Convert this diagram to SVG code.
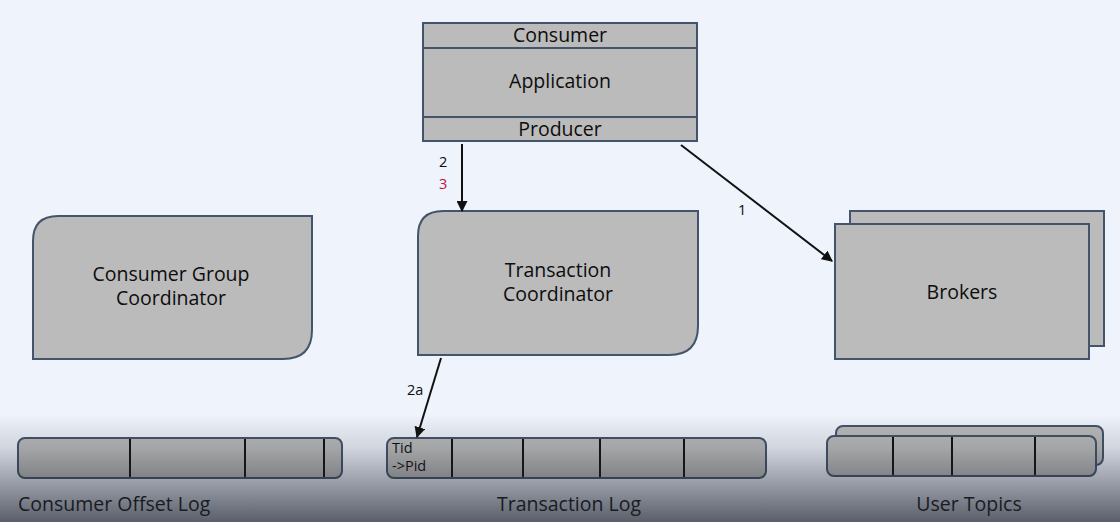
<svg xmlns="http://www.w3.org/2000/svg" width="1120" height="522" viewBox="0 0 1120 522">
<style>
.box{fill:#bbbbbb;stroke:#44546a;stroke-width:2}
.div{stroke:#111;stroke-width:2}
.t{font-family:"Open Sans","Noto Sans","Liberation Sans",sans-serif;font-size:19.5px;fill:#0d0d0d;text-anchor:middle}
.s{font-family:"Open Sans","Noto Sans","Liberation Sans",sans-serif;font-size:14.5px;fill:#0d0d0d}
.c{stroke:#111;stroke-width:2;fill:none;marker-end:url(#ah)}
</style>
<defs>
<marker id="ah" viewBox="0 0 10 10" refX="9" refY="5" markerWidth="5.5" markerHeight="5.5" orient="auto" markerUnits="strokeWidth">
<path d="M0,0 L10,5 L0,10 z" fill="#111"/>
</marker>
<linearGradient id="shade" x1="0" y1="0" x2="0" y2="1">
<stop offset="0" stop-color="#000" stop-opacity="0"/>
<stop offset="0.3" stop-color="#202530" stop-opacity="0.14"/>
<stop offset="1" stop-color="#202530" stop-opacity="0.72"/>
</linearGradient>
</defs>
<rect x="0" y="0" width="1120" height="522" fill="#eef3fc"/>

<g id="application">
<rect class="box" x="423" y="23" width="274" height="118"/>
<line x1="423" y1="48" x2="697" y2="48" stroke="#44546a" stroke-width="2"/>
<line x1="423" y1="117" x2="697" y2="117" stroke="#44546a" stroke-width="2"/>
<text class="t" x="560" y="42">Consumer</text>
<text class="t" x="560" y="88">Application</text>
<text class="t" x="560" y="136">Producer</text>
</g>

<g id="consumer-group-coordinator">
<path class="box" d="M58,216 H312 V330 Q312,359 283,359 H33 V241 Q33,216 58,216 Z"/>
<text class="t" x="171" y="281">Consumer Group</text>
<text class="t" x="171" y="305">Coordinator</text>
</g>

<g id="transaction-coordinator">
<path class="box" d="M443,211 H698 V326 Q698,355 669,355 H418 V236 Q418,211 443,211 Z"/>
<text class="t" x="558" y="277">Transaction</text>
<text class="t" x="558" y="301">Coordinator</text>
</g>

<g id="brokers">
<rect class="box" x="850" y="211" width="254" height="135"/>
<rect class="box" x="835" y="224" width="254" height="135"/>
<text class="t" x="962" y="299">Brokers</text>
</g>

<g id="consumer-offset-log">
<rect class="box" x="18" y="438" width="324" height="40" rx="7"/>
<line class="div" x1="130" y1="439" x2="130" y2="477"/>
<line class="div" x1="245" y1="439" x2="245" y2="477"/>
<line class="div" x1="324" y1="439" x2="324" y2="477"/>
<text class="t" x="18" y="511" style="text-anchor:start">Consumer Offset Log</text>
</g>

<g id="transaction-log">
<rect class="box" x="387" y="438" width="379" height="40" rx="7"/>
<line class="div" x1="452" y1="439" x2="452" y2="477"/>
<line class="div" x1="523" y1="439" x2="523" y2="477"/>
<line class="div" x1="600" y1="439" x2="600" y2="477"/>
<line class="div" x1="684" y1="439" x2="684" y2="477"/>
<text class="s" x="392" y="453">Tid</text>
<text class="s" x="392" y="471">-&gt;Pid</text>
<text class="t" x="569" y="511">Transaction Log</text>
</g>

<g id="user-topics">
<rect class="box" x="836" y="426" width="267" height="39" rx="7"/>
<rect class="box" x="827" y="436" width="269" height="40" rx="7"/>
<line class="div" x1="893" y1="437" x2="893" y2="475"/>
<line class="div" x1="952" y1="437" x2="952" y2="475"/>
<line class="div" x1="1035" y1="437" x2="1035" y2="475"/>
<text class="t" x="969" y="511">User Topics</text>
</g>

<g id="connectors">
<line class="c" x1="462" y1="144" x2="462" y2="211"/>
<text class="s" x="439" y="167">2</text>
<text class="s" x="439" y="189" style="fill:#c0143c">3</text>
<line class="c" x1="681" y1="145" x2="832" y2="261"/>
<text class="s" x="738" y="215">1</text>
<line class="c" x1="441" y1="358" x2="417" y2="437"/>
<text class="s" x="407" y="395">2a</text>
</g>

<rect x="0" y="415" width="1120" height="107" fill="url(#shade)"/>
</svg>
